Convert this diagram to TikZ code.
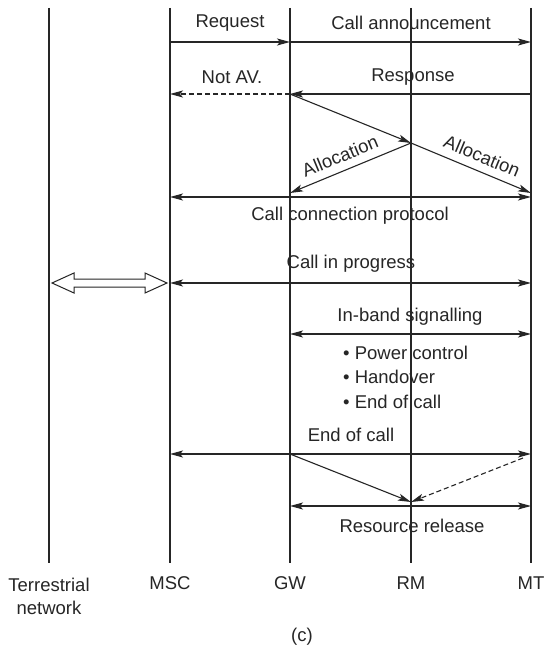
\documentclass[tikz,border=0pt]{standalone}
\usepackage{fontspec}
\setmainfont{Liberation Sans}
\usetikzlibrary{arrows.meta}
\begin{document}
\begin{tikzpicture}[x=1pt,y=-1pt,
  life/.style={line width=2pt,draw=black!85},
  msg/.style={line width=1.1pt,draw=black!85,-{Stealth[length=13pt,width=7pt,inset=3pt]}},
  bimsg/.style={line width=1.1pt,draw=black!85,{Stealth[length=13pt,width=7pt,inset=3pt]}-{Stealth[length=13pt,width=7pt,inset=3pt]}},
  dashmsg/.style={msg,dash pattern=on 5pt off 3pt},
  lbl/.style={font=\fontsize{18.5}{21}\selectfont,text=black!85,inner sep=1pt},
  every node/.style={lbl}]
\useasboundingbox[fill=white] (0,0) rectangle (546,650);
% lifeline ends
\coordinate (Tt) at (49,8);   \coordinate (Tb) at (49,563);
\coordinate (Mt) at (170,8);  \coordinate (Mb) at (170,563);
\coordinate (Gt) at (290,8);  \coordinate (Gb) at (290,563);
\coordinate (Rt) at (411,8);  \coordinate (Rb) at (411,563);
\coordinate (Kt) at (531,8);  \coordinate (Kb) at (531,563);
\draw[life] (Tt) -- (Tb);
\draw[life] (Mt) -- (Mb);
\draw[life] (Gt) -- (Gb);
\draw[life] (Rt) -- (Rb);
\draw[life] (Kt) -- (Kb);
% message points
\coordinate (M1) at (170,42);  \coordinate (G1) at (290,42);  \coordinate (K1) at (531,42);
\coordinate (M2) at (170,94);  \coordinate (G2) at (290,94);  \coordinate (K2) at (531,94);
\coordinate (R3) at (411,143);
\coordinate (G4) at (290,193); \coordinate (K4) at (531,193);
\coordinate (M5) at (170,197); \coordinate (K5) at (531,197);
\coordinate (M6) at (170,283); \coordinate (K6) at (531,283);
\coordinate (G7) at (290,334); \coordinate (K7) at (531,334);
\coordinate (M8) at (170,454); \coordinate (G8) at (290,454); \coordinate (K8) at (531,454);
\coordinate (K8b) at (523,458);
\coordinate (R9) at (411,502);
\coordinate (G10) at (290,506); \coordinate (K10) at (531,506);
% arrows
\draw[msg] (M1) -- (G1);
\draw[msg] (G1) -- (K1);
\draw[msg] (K2) -- (G2);
\draw[dashmsg] (G2) -- (M2);
\draw[msg] (G2) -- (R3);
\draw[msg] (R3) -- (G4);
\draw[msg] (R3) -- (K4);
\draw[bimsg] (M5) -- (K5);
\draw[bimsg] (M6) -- (K6);
\draw[bimsg] (G7) -- (K7);
\draw[bimsg] (M8) -- (K8);
\draw[msg] (G8) -- (R9);
\draw[dashmsg] (K8b) -- (R9);
\draw[bimsg] (G10) -- (K10);
% hollow double arrow
\draw[line width=1pt,draw=black!85,fill=white]
  (52,283) -- (74,273) -- (74,279) -- (145,279) -- (145,273) -- (167,283)
  -- (145,293) -- (145,287) -- (74,287) -- (74,293) -- cycle;
% labels
\node (lReq) at (230,23) {Request};
\node (lCA) at (411,23) {Call announcement};
\node (lNA) at (232,77) {Not AV.};
\node (lResp) at (413,77) {Response};
\node[rotate=22.5] (lAl1) at (340,156) {Allocation};
\node[rotate=-22.5] (lAl2) at (482,156) {Allocation};
\node (lCCP) at (350,216) {Call connection protocol};
\node (lCIP) at (351,264) {Call in progress};
\node (lIBS) at (410,317) {In-band signalling};
\node[anchor=west] (lB1) at (342,353) {• Power control};
\node[anchor=west] (lB2) at (342,377) {• Handover};
\node[anchor=west] (lB3) at (342,402) {• End of call};
\node (lEOC) at (351,435) {End of call};
\node (lRR) at (412,526) {Resource release};
\node[align=center] (nT) at (49,596) {Terrestrial\\[2pt]network};
\node (nM) at (170,583) {MSC};
\node (nG) at (290,583) {GW};
\node (nR) at (411,583) {RM};
\node (nK) at (531,583) {MT};
\node (cap) at (302,637) {(c)};
\end{tikzpicture}
\end{document}
